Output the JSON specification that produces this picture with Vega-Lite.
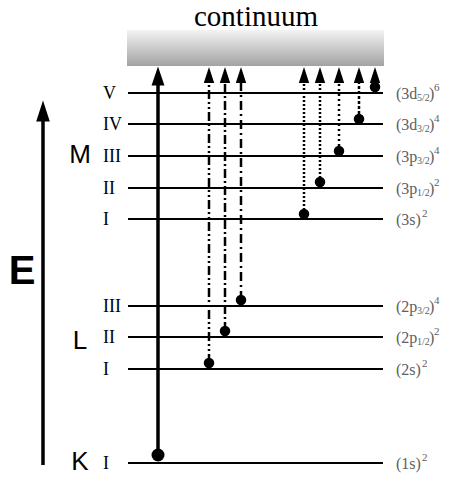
{
  "$schema": "https://vega.github.io/schema/vega-lite/v6.json",
  "width": 460,
  "height": 481,
  "autosize": {"type": "fit", "contains": "padding"},
  "padding": 0,
  "background": "white",
  "config": {"view": {"stroke": null}},
  "datasets": {
    "levels": [
      {"shell": "K", "sub": "I", "orbital": "(1s)", "j": "", "occ": "2", "energy": 18},
      {"shell": "L", "sub": "I", "orbital": "(2s)", "j": "", "occ": "2", "energy": 112},
      {"shell": "L", "sub": "II", "orbital": "(2p", "j": "1/2", "occ": "2", "energy": 144},
      {"shell": "L", "sub": "III", "orbital": "(2p", "j": "3/2", "occ": "4", "energy": 175},
      {"shell": "M", "sub": "I", "orbital": "(3s)", "j": "", "occ": "2", "energy": 262},
      {"shell": "M", "sub": "II", "orbital": "(3p", "j": "1/2", "occ": "2", "energy": 293},
      {"shell": "M", "sub": "III", "orbital": "(3p", "j": "3/2", "occ": "4", "energy": 325},
      {"shell": "M", "sub": "IV", "orbital": "(3d", "j": "3/2", "occ": "4", "energy": 357},
      {"shell": "M", "sub": "V", "orbital": "(3d", "j": "5/2", "occ": "6", "energy": 388}
    ],
    "shells": [
      {"shell": "K", "energy": 19},
      {"shell": "L", "energy": 140},
      {"shell": "M", "energy": 326}
    ],
    "ionization": [
      {"edge": "K", "track": 158, "electron": 26},
      {"edge": "L1", "track": 209, "electron": 118},
      {"edge": "L2", "track": 225, "electron": 150},
      {"edge": "L3", "track": 241, "electron": 181},
      {"edge": "M1", "track": 304, "electron": 267},
      {"edge": "M2", "track": 320, "electron": 299},
      {"edge": "M3", "track": 339, "electron": 330},
      {"edge": "M4", "track": 359, "electron": 362},
      {"edge": "M5", "track": 375, "electron": 394}
    ]
  },
  "layer": [
    {
      "data": {"values": [{}]},
      "mark": {
        "type": "rect",
        "fill": {
          "gradient": "linear", "x1": 0, "y1": 0, "x2": 0, "y2": 1,
          "stops": [{"offset": 0, "color": "#f4f4f4"}, {"offset": 1, "color": "#a2a2a2"}]
        }
      },
      "encoding": {
        "x": {"datum": 127, "type": "quantitative", "scale": {"domain": [0, 460], "nice": false, "zero": false}, "axis": null},
        "x2": {"datum": 384},
        "y": {"datum": 451, "type": "quantitative", "scale": {"domain": [0, 481], "nice": false, "zero": false}, "axis": null},
        "y2": {"datum": 415}
      }
    },
    {
      "data": {"values": [{"label": "continuum"}]},
      "mark": {"type": "text", "font": "Liberation Serif", "fontSize": 29, "align": "center", "baseline": "alphabetic", "color": "black"},
      "encoding": {
        "x": {"datum": 256, "type": "quantitative"},
        "y": {"datum": 455, "type": "quantitative"},
        "text": {"field": "label"}
      }
    },
    {
      "data": {"name": "levels"},
      "mark": {"type": "rule", "color": "black", "strokeWidth": 2},
      "encoding": {
        "x": {"datum": 128, "type": "quantitative"},
        "x2": {"datum": 383},
        "y": {"field": "energy", "type": "quantitative"}
      }
    },
    {
      "data": {"name": "levels"},
      "mark": {"type": "text", "font": "Liberation Serif", "fontSize": 18, "align": "left", "baseline": "middle", "dy": 1, "color": "black"},
      "encoding": {
        "x": {"datum": 103, "type": "quantitative"},
        "y": {"field": "energy", "type": "quantitative"},
        "text": {"field": "sub"}
      }
    },
    {
      "data": {"name": "levels"},
      "mark": {"type": "text", "font": "Liberation Serif", "fontSize": 16, "align": "left", "baseline": "middle", "dy": 1, "color": "#606060"},
      "encoding": {
        "x": {"datum": 396, "type": "quantitative"},
        "y": {"field": "energy", "type": "quantitative"},
        "text": {"field": "orbital"}
      }
    },
    {
      "data": {"name": "levels"},
      "transform": [{"filter": "datum.j !== ''"}],
      "mark": {"type": "text", "font": "Liberation Serif", "fontSize": 10, "align": "left", "baseline": "middle", "dy": 5, "color": "#606060"},
      "encoding": {
        "x": {"datum": 417, "type": "quantitative"},
        "y": {"field": "energy", "type": "quantitative"},
        "text": {"field": "j"}
      }
    },
    {
      "data": {"name": "levels"},
      "transform": [{"filter": "datum.j !== ''"}, {"calculate": "')'", "as": "close"}],
      "mark": {"type": "text", "font": "Liberation Serif", "fontSize": 16, "align": "left", "baseline": "middle", "dy": 1, "color": "#606060"},
      "encoding": {
        "x": {"datum": 429, "type": "quantitative"},
        "y": {"field": "energy", "type": "quantitative"},
        "text": {"field": "close"}
      }
    },
    {
      "data": {"name": "levels"},
      "transform": [{"filter": "datum.j !== ''"}],
      "mark": {"type": "text", "font": "Liberation Serif", "fontSize": 11, "align": "left", "baseline": "middle", "dy": -5, "color": "#606060"},
      "encoding": {
        "x": {"datum": 434, "type": "quantitative"},
        "y": {"field": "energy", "type": "quantitative"},
        "text": {"field": "occ"}
      }
    },
    {
      "data": {"name": "levels"},
      "transform": [{"filter": "datum.j === ''"}],
      "mark": {"type": "text", "font": "Liberation Serif", "fontSize": 11, "align": "left", "baseline": "middle", "dy": -5, "color": "#606060"},
      "encoding": {
        "x": {"datum": 422, "type": "quantitative"},
        "y": {"field": "energy", "type": "quantitative"},
        "text": {"field": "occ"}
      }
    },
    {
      "data": {"name": "shells"},
      "mark": {"type": "text", "font": "Liberation Sans", "fontSize": 26, "align": "center", "baseline": "middle", "color": "black"},
      "encoding": {
        "x": {"datum": 80, "type": "quantitative"},
        "y": {"field": "energy", "type": "quantitative"},
        "text": {"field": "shell"}
      }
    },
    {
      "data": {"values": [{"label": "E"}]},
      "mark": {"type": "text", "font": "Liberation Sans", "fontSize": 40, "fontWeight": "bold", "align": "center", "baseline": "middle", "color": "black"},
      "encoding": {
        "x": {"datum": 22, "type": "quantitative"},
        "y": {"datum": 209, "type": "quantitative"},
        "text": {"field": "label"}
      }
    },
    {
      "data": {"values": [{}]},
      "mark": {"type": "rule", "color": "black", "strokeWidth": 3.5},
      "encoding": {
        "x": {"datum": 43, "type": "quantitative"},
        "y": {"datum": 16, "type": "quantitative"},
        "y2": {"datum": 362}
      }
    },
    {
      "data": {"values": [{}]},
      "mark": {"type": "point", "shape": "M0,-1L0.65,1L-0.65,1Z", "filled": true, "color": "black", "opacity": 1, "size": 441, "strokeWidth": 0},
      "encoding": {
        "x": {"datum": 43, "type": "quantitative"},
        "y": {"datum": 370, "type": "quantitative"}
      }
    },
    {
      "data": {"name": "ionization"},
      "transform": [{"filter": "datum.edge === 'K'"}],
      "mark": {"type": "rule", "color": "black", "strokeWidth": 3.5},
      "encoding": {
        "x": {"field": "track", "type": "quantitative"},
        "y": {"field": "electron", "type": "quantitative"},
        "y2": {"datum": 400}
      }
    },
    {
      "data": {"name": "ionization"},
      "transform": [{"filter": "datum.edge !== 'K'"}],
      "mark": {"type": "rule", "color": "black", "strokeWidth": 2.5},
      "encoding": {
        "x": {"field": "track", "type": "quantitative"},
        "y": {"field": "electron", "type": "quantitative"},
        "y2": {"datum": 400},
        "strokeDash": {
          "field": "edge", "type": "nominal", "legend": null,
          "scale": {
            "domain": ["L1", "L2", "L3", "M1", "M2", "M3", "M4", "M5"],
            "range": [[9, 3, 2, 3, 2, 3], [9, 3, 2, 3], [9, 4, 2, 4], [2, 2], [2, 2], [2, 3], [3, 2], [4, 2]]
          }
        }
      }
    },
    {
      "data": {"name": "ionization"},
      "transform": [{"filter": "datum.edge !== 'K'"}],
      "mark": {"type": "point", "shape": "M0,-1L0.65,1L-0.65,1Z", "filled": true, "color": "black", "opacity": 1, "size": 256, "strokeWidth": 0},
      "encoding": {
        "x": {"field": "track", "type": "quantitative"},
        "y": {"datum": 406, "type": "quantitative"}
      }
    },
    {
      "data": {"name": "ionization"},
      "transform": [{"filter": "datum.edge === 'K'"}],
      "mark": {"type": "point", "shape": "M0,-1L0.68,1L-0.68,1Z", "filled": true, "color": "black", "opacity": 1, "size": 361, "strokeWidth": 0},
      "encoding": {
        "x": {"field": "track", "type": "quantitative"},
        "y": {"datum": 405, "type": "quantitative"}
      }
    },
    {
      "data": {"name": "ionization"},
      "mark": {"type": "circle", "color": "black", "opacity": 1},
      "encoding": {
        "x": {"field": "track", "type": "quantitative"},
        "y": {"field": "electron", "type": "quantitative"},
        "size": {"condition": {"test": "datum.edge === 'K'", "value": 169}, "value": 110}
      }
    }
  ]
}
